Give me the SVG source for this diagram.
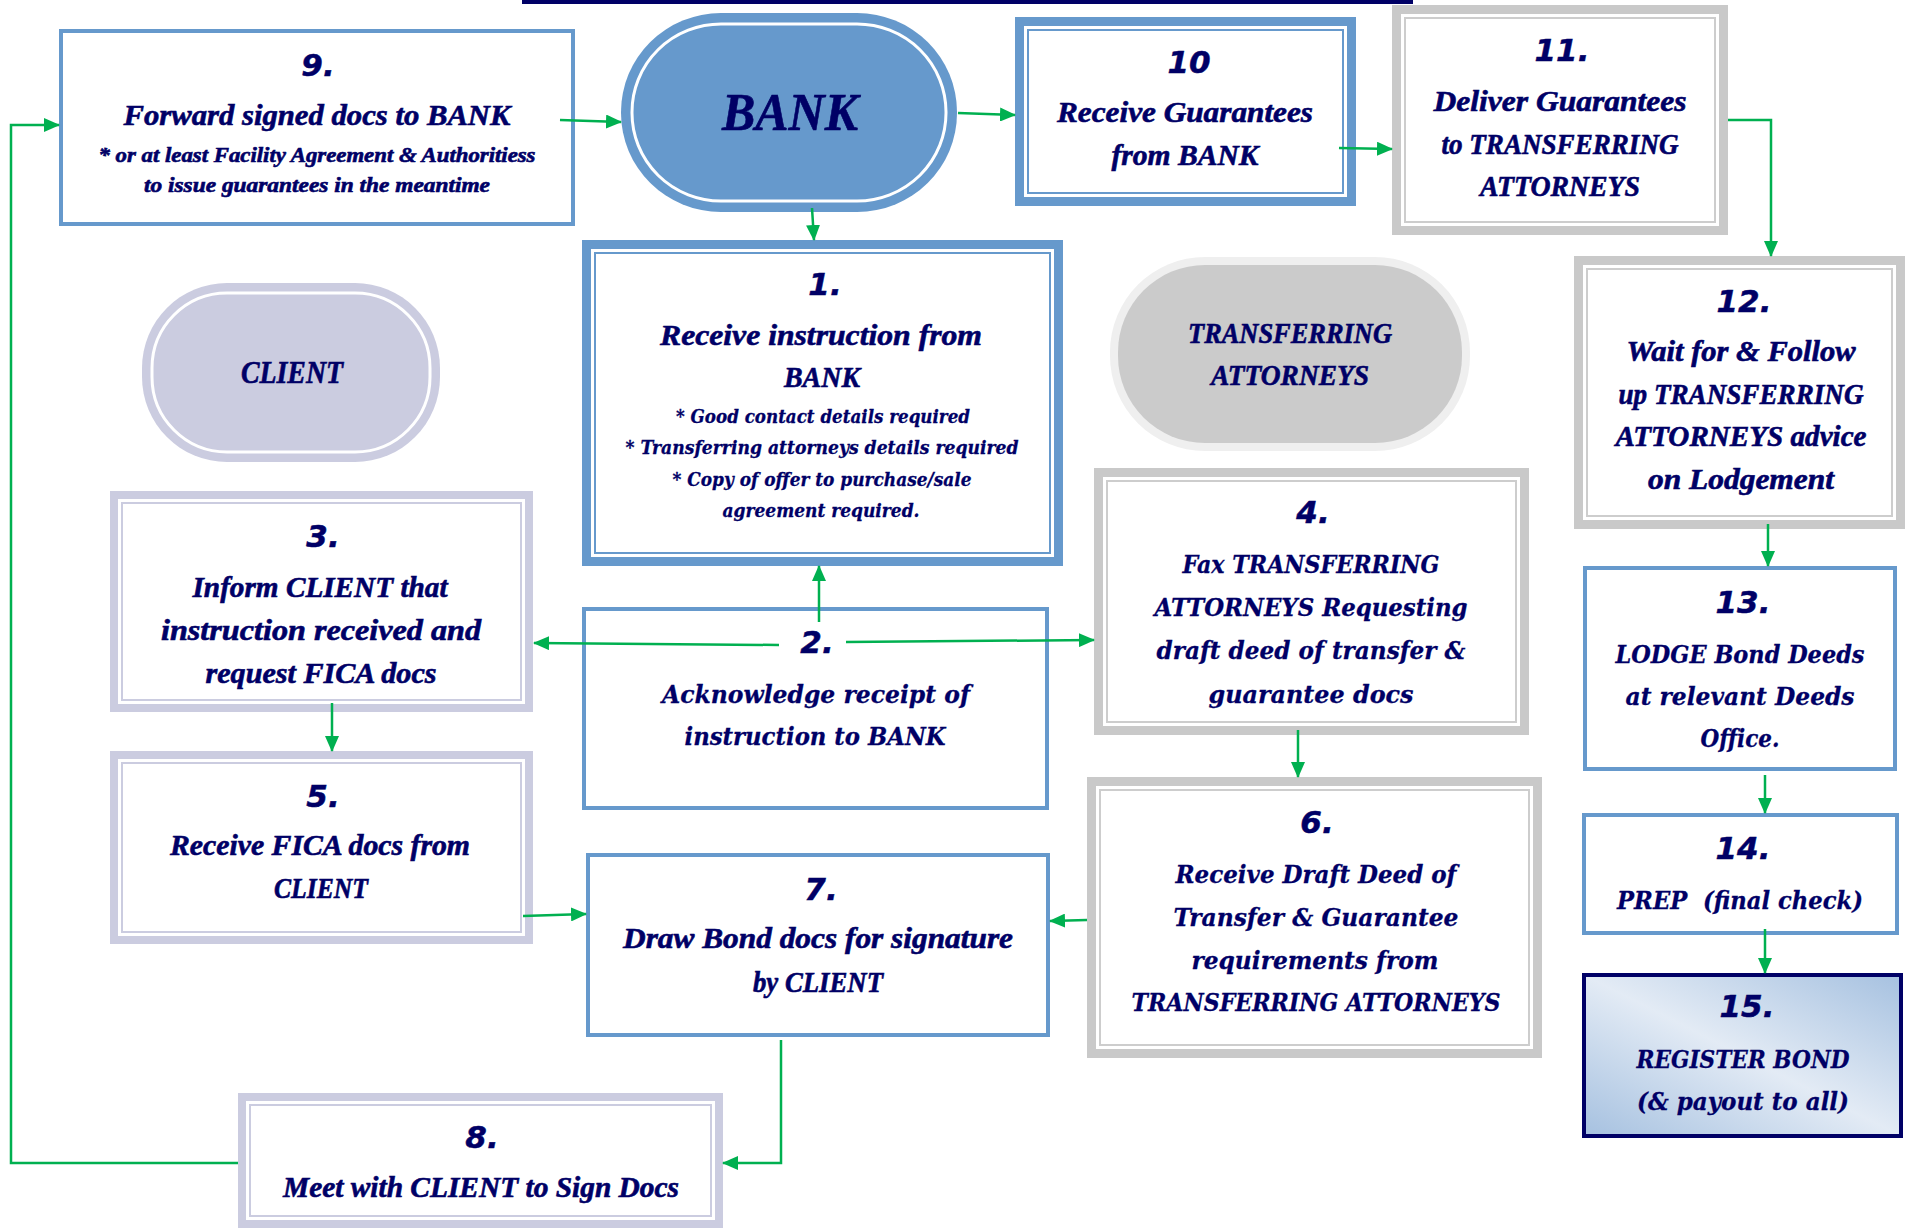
<svg xmlns="http://www.w3.org/2000/svg" width="1905" height="1230" viewBox="0 0 1905 1230">
<style>
.t{font-family:"Liberation Serif","DejaVu Serif",serif;font-weight:bold;font-style:italic;fill:#000066;stroke:#000066;stroke-width:0.6;text-anchor:middle}
.d{font-family:"DejaVu Serif","Liberation Serif",serif;stroke-width:0.3}
.n{font-family:"DejaVu Sans","Liberation Sans",sans-serif;font-weight:bold;font-style:italic;fill:#000066;stroke:#000066;stroke-width:0.5;text-anchor:middle;font-size:31px}
.m{font-size:29px}
.s{font-size:20px}
.ds{font-size:18px}
.w{font-size:25px}
.bb{fill:#fff;stroke:#6699CC}
.bt{fill:none;stroke:#6699CC;stroke-width:2}
.gb{fill:#fff;stroke:#C9C9C9}
.gt{fill:none;stroke:#CDCDCD;stroke-width:2}
.lb{fill:#fff;stroke:#CBCCE0}
.lt{fill:none;stroke:#CBCCE0;stroke-width:2}
.c{fill:none;stroke:#00B050;stroke-width:2.5;marker-end:url(#ah)}
</style>
<defs>
<marker id="ah" markerUnits="userSpaceOnUse" markerWidth="16" markerHeight="14" viewBox="0 0 16 14" refX="15" refY="7" orient="auto">
<path d="M0,0 L16,7 L0,14 z" fill="#00B050"/>
</marker>
<linearGradient id="g15" x1="0" y1="1" x2="1" y2="0">
<stop offset="0" stop-color="#A6C1E0"/>
<stop offset="0.5" stop-color="#E3EBF5"/>
<stop offset="1" stop-color="#A6C1E0"/>
</linearGradient>
</defs>
<rect x="0" y="0" width="1905" height="1230" fill="#fff"/>
<rect x="522" y="0" width="891" height="4" fill="#000066"/>

<g id="node9">
<rect class="bb" x="61" y="31" width="512" height="193" stroke-width="4"/>
<text class="n" x="318" y="76">9.</text>
<text class="t m" x="317" y="125" textLength="387" lengthAdjust="spacingAndGlyphs">Forward signed docs to BANK</text>
<text class="t s" x="317" y="162" textLength="437" lengthAdjust="spacingAndGlyphs">* or at least Facility Agreement &amp; Authoritiess</text>
<text class="t s" x="317" y="192" textLength="346" lengthAdjust="spacingAndGlyphs">to issue guarantees in the meantime</text>
</g>

<g id="bank">
<rect x="621" y="13" width="336" height="199" rx="100" ry="99" fill="#6699CC"/>
<rect x="632" y="24" width="314" height="177" rx="89" ry="88" fill="none" stroke="#fff" stroke-width="3"/>
<text class="t" x="790" y="130" font-size="53" textLength="136" lengthAdjust="spacingAndGlyphs">BANK</text>
</g>

<g id="node10">
<rect class="bb" x="1019.5" y="21.5" width="332" height="180" stroke-width="9"/>
<rect class="bt" x="1028" y="30" width="315" height="163"/>
<text class="n" x="1189" y="73">10</text>
<text class="t m" x="1185" y="122" textLength="256" lengthAdjust="spacingAndGlyphs">Receive Guarantees</text>
<text class="t m" x="1185" y="165" textLength="147" lengthAdjust="spacingAndGlyphs">from BANK</text>
</g>

<g id="node11">
<rect class="gb" x="1396.5" y="9.5" width="327" height="221" stroke-width="9"/>
<rect class="gt" x="1405" y="18" width="310" height="204"/>
<text class="n" x="1562" y="61">11.</text>
<text class="t m" x="1560" y="111" textLength="253" lengthAdjust="spacingAndGlyphs">Deliver Guarantees</text>
<text class="t m" x="1560" y="154" textLength="237" lengthAdjust="spacingAndGlyphs">to TRANSFERRING</text>
<text class="t m" x="1560" y="196" textLength="160" lengthAdjust="spacingAndGlyphs">ATTORNEYS</text>
</g>

<g id="node12">
<rect class="gb" x="1578.5" y="260.5" width="322" height="264" stroke-width="9"/>
<rect class="gt" x="1587" y="269" width="305" height="247"/>
<text class="n" x="1744" y="312">12.</text>
<text class="t m" x="1741" y="361" textLength="229" lengthAdjust="spacingAndGlyphs">Wait for &amp; Follow</text>
<text class="t m" x="1741" y="404" textLength="245" lengthAdjust="spacingAndGlyphs">up TRANSFERRING</text>
<text class="t m" x="1741" y="446" textLength="251" lengthAdjust="spacingAndGlyphs">ATTORNEYS advice</text>
<text class="t m" x="1741" y="489" textLength="186" lengthAdjust="spacingAndGlyphs">on Lodgement</text>
</g>

<g id="client">
<rect x="142" y="283" width="298" height="179" rx="85" ry="85" fill="#CBCCE0"/>
<rect x="152" y="293" width="278" height="159" rx="75" ry="75" fill="none" stroke="#fff" stroke-width="3"/>
<text class="t" x="292" y="383" font-size="31" textLength="102" lengthAdjust="spacingAndGlyphs">CLIENT</text>
</g>

<g id="transferring">
<rect x="1110" y="257" width="360" height="194" rx="95" ry="95" fill="#EFEFEF"/>
<rect x="1118" y="265" width="344" height="178" rx="87" ry="87" fill="#CBCBCB"/>
<text class="t m" x="1290" y="343" textLength="204" lengthAdjust="spacingAndGlyphs">TRANSFERRING</text>
<text class="t m" x="1290" y="385" textLength="158" lengthAdjust="spacingAndGlyphs">ATTORNEYS</text>
</g>

<g id="node1">
<rect class="bb" x="586.5" y="244.5" width="472" height="317" stroke-width="9"/>
<rect class="bt" x="595" y="253" width="455" height="300"/>
<text class="n" x="825" y="295">1.</text>
<text class="t m" x="821" y="345" textLength="322" lengthAdjust="spacingAndGlyphs">Receive instruction from</text>
<text class="t m" x="822" y="387" textLength="76" lengthAdjust="spacingAndGlyphs">BANK</text>
<text class="t d ds" x="823" y="423" textLength="294" lengthAdjust="spacingAndGlyphs">* Good contact details required</text>
<text class="t d ds" x="822" y="454" textLength="393" lengthAdjust="spacingAndGlyphs">* Transferring attorneys details required</text>
<text class="t d ds" x="822" y="486" textLength="299" lengthAdjust="spacingAndGlyphs">* Copy of offer to purchase/sale</text>
<text class="t d ds" x="821" y="517" textLength="197" lengthAdjust="spacingAndGlyphs">agreement required.</text>
</g>

<g id="node2">
<rect class="bb" x="584" y="609" width="463" height="199" stroke-width="4"/>
<text class="n" x="817" y="653">2.</text>
<text class="t d w" x="816" y="703" textLength="308" lengthAdjust="spacingAndGlyphs">Acknowledge receipt of</text>
<text class="t d w" x="815" y="745" textLength="261" lengthAdjust="spacingAndGlyphs">instruction to BANK</text>
</g>

<g id="node3">
<rect class="lb" x="114" y="495" width="415" height="213" stroke-width="8"/>
<rect class="lt" x="122" y="503" width="399" height="197"/>
<text class="n" x="323" y="547">3.</text>
<text class="t m" x="320" y="597" textLength="255" lengthAdjust="spacingAndGlyphs">Inform CLIENT that</text>
<text class="t m" x="321" y="640" textLength="320" lengthAdjust="spacingAndGlyphs">instruction received and</text>
<text class="t m" x="321" y="683" textLength="231" lengthAdjust="spacingAndGlyphs">request FICA docs</text>
</g>

<g id="node5">
<rect class="lb" x="114" y="755" width="415" height="185" stroke-width="8"/>
<rect class="lt" x="122" y="763" width="399" height="169"/>
<text class="n" x="323" y="807">5.</text>
<text class="t m" x="320" y="855" textLength="300" lengthAdjust="spacingAndGlyphs">Receive FICA docs from</text>
<text class="t m" x="321" y="898" textLength="94" lengthAdjust="spacingAndGlyphs">CLIENT</text>
</g>

<g id="node7">
<rect class="bb" x="588" y="855" width="460" height="180" stroke-width="4"/>
<text class="n" x="821" y="900">7.</text>
<text class="t m" x="818" y="948" textLength="390" lengthAdjust="spacingAndGlyphs">Draw Bond docs for signature</text>
<text class="t m" x="818" y="992" textLength="130" lengthAdjust="spacingAndGlyphs">by CLIENT</text>
</g>

<g id="node8">
<rect class="lb" x="242" y="1097" width="477" height="127" stroke-width="8"/>
<rect class="lt" x="250" y="1105" width="461" height="111"/>
<text class="n" x="482" y="1148">8.</text>
<text class="t m" x="481" y="1197" textLength="396" lengthAdjust="spacingAndGlyphs">Meet with CLIENT to Sign Docs</text>
</g>

<g id="node4">
<rect class="gb" x="1098.5" y="472.5" width="426" height="258" stroke-width="9"/>
<rect class="gt" x="1107" y="481" width="409" height="241"/>
<text class="n" x="1313" y="523">4.</text>
<text class="t d w" x="1311" y="573" textLength="257" lengthAdjust="spacingAndGlyphs">Fax TRANSFERRING</text>
<text class="t d w" x="1311" y="616" textLength="313" lengthAdjust="spacingAndGlyphs">ATTORNEYS Requesting</text>
<text class="t d w" x="1311" y="659" textLength="309" lengthAdjust="spacingAndGlyphs">draft deed of transfer &amp;</text>
<text class="t d w" x="1311" y="703" textLength="205" lengthAdjust="spacingAndGlyphs">guarantee docs</text>
</g>

<g id="node6">
<rect class="gb" x="1091.5" y="781.5" width="446" height="272" stroke-width="9"/>
<rect class="gt" x="1100" y="790" width="429" height="255"/>
<text class="n" x="1317" y="833">6.</text>
<text class="t d w" x="1316" y="883" textLength="281" lengthAdjust="spacingAndGlyphs">Receive Draft Deed of</text>
<text class="t d w" x="1316" y="926" textLength="285" lengthAdjust="spacingAndGlyphs">Transfer &amp; Guarantee</text>
<text class="t d w" x="1315" y="969" textLength="247" lengthAdjust="spacingAndGlyphs">requirements from</text>
<text class="t d w" x="1316" y="1011" textLength="369" lengthAdjust="spacingAndGlyphs">TRANSFERRING ATTORNEYS</text>
</g>

<g id="node13">
<rect class="bb" x="1585" y="568" width="310" height="201" stroke-width="4"/>
<text class="n" x="1743" y="613">13.</text>
<text class="t d w" x="1740" y="663" textLength="249" lengthAdjust="spacingAndGlyphs">LODGE Bond Deeds</text>
<text class="t d w" x="1740" y="705" textLength="229" lengthAdjust="spacingAndGlyphs">at relevant Deeds</text>
<text class="t d w" x="1740" y="747" textLength="79" lengthAdjust="spacingAndGlyphs">Office.</text>
</g>

<g id="node14">
<rect class="bb" x="1584" y="815" width="313" height="118" stroke-width="4"/>
<text class="n" x="1743" y="859">14.</text>
<text class="t d w" x="1740" y="909" textLength="246" lengthAdjust="spacingAndGlyphs">PREP&#160; (final check)</text>
</g>

<g id="node15">
<rect x="1584" y="975" width="317" height="161" fill="url(#g15)" stroke="#000066" stroke-width="4"/>
<text class="n" x="1747" y="1017">15.</text>
<text class="t d w" x="1743" y="1068" textLength="213" lengthAdjust="spacingAndGlyphs">REGISTER BOND</text>
<text class="t d w" x="1743" y="1110" textLength="212" lengthAdjust="spacingAndGlyphs">(&amp; payout to all)</text>
</g>

<g id="connectors">
<path class="c" d="M560,120 L621,122"/>
<path class="c" d="M812,208 L814,240"/>
<path class="c" d="M958,113 L1015,115"/>
<path class="c" d="M1339,148 L1392,149"/>
<path class="c" d="M1728,120 H1771 V256"/>
<path class="c" d="M1768,524 V566"/>
<path class="c" d="M1765,775 V813"/>
<path class="c" d="M1765,929 V973"/>
<path class="c" d="M819,622 V566"/>
<path class="c" d="M779,645 L534,643"/>
<path class="c" d="M846,642 L1094,640"/>
<path class="c" d="M332,703 V751"/>
<path class="c" d="M1298,730 V777"/>
<path class="c" d="M523,916 L586,914"/>
<path class="c" d="M1087,920 L1050,921"/>
<path class="c" d="M781,1040 V1163 H723"/>
<path class="c" d="M238,1163 H11 V125 H59"/>
</g>
</svg>
